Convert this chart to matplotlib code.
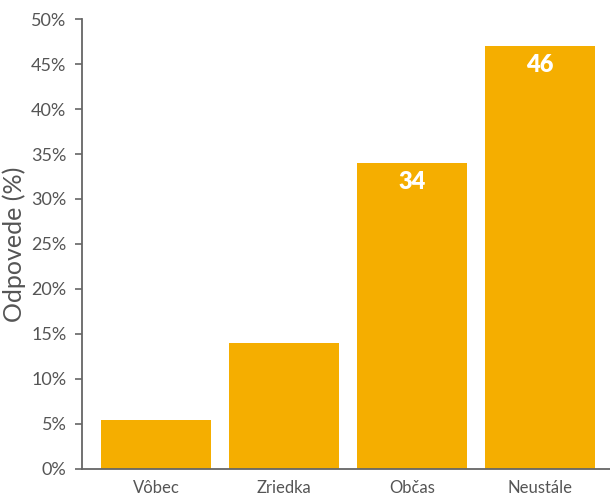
import matplotlib
matplotlib.use("Agg")
from matplotlib import pyplot as plt
from matplotlib.ticker import FuncFormatter

# data
categories = ['Vôbec', 'Zriedka', 'Občas', 'Neustále']
values = [5.4, 14.0, 34.0, 47.0]
bar_labels = ['', '', '34', '46']
yticks = [0, 5, 10, 15, 20, 25, 30, 35, 40, 45, 50]

plt.rcParams['font.family'] = ['Lato', 'DejaVu Sans']
grey = '#666666'
txt = '#555555'

fig = plt.figure(figsize=(6.1, 5.01), dpi=100)
ax = fig.add_axes([0.134, 0.064, 0.866, 0.898])

x = range(len(categories))
bars = ax.bar(x, values, width=0.86, color='#F5AE00')

for b, lab in zip(bars, bar_labels):
    if lab:
        ax.annotate(lab, (b.get_x() + b.get_width() / 2, b.get_height()),
                    xytext=(0, -14), textcoords='offset points',
                    ha='center', va='center', color='white',
                    fontsize=17, fontweight='heavy')

ax.set_xlim(-0.58, 3.55)
ax.set_ylim(0, 50)
ax.set_yticks(yticks)
ax.yaxis.set_major_formatter(FuncFormatter(lambda v, p: '%d%%' % v))
ax.set_xticks(list(x))
ax.set_xticklabels(categories)

for s in ['top', 'right']:
    ax.spines[s].set_visible(False)
for s in ['left', 'bottom']:
    ax.spines[s].set_color(grey)
    ax.spines[s].set_linewidth(1.3)

ax.tick_params(axis='y', colors=grey, length=5, width=1.2, labelsize=13, pad=6, labelcolor=txt)
ax.tick_params(axis='x', length=0, colors=grey, labelsize=12, pad=8, labelcolor=txt)

ax.set_ylabel('Odpovede (%)', fontsize=18, color=txt)
ax.yaxis.set_label_coords(-0.105, 0.5)

plt.savefig('out.png', dpi=100)
